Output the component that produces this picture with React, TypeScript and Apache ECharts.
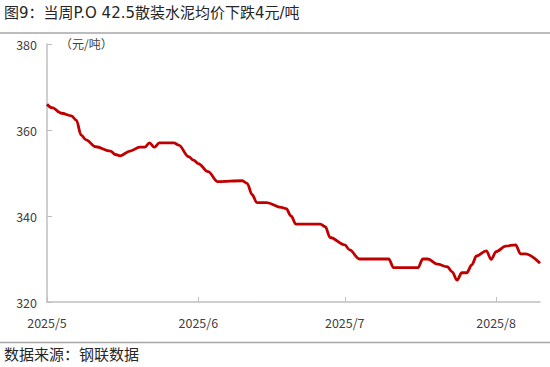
import React, { useEffect, useRef } from "react";
import * as echarts from "echarts";

const titleText = "图9：当周P.O 42.5散装水泥均价下跌4元/吨";
const unitText = "（元/吨）";
const sourceText = "数据来源：钢联数据";

const startDate = "2025-05-01";
const endDate = "2025-08-10";

const yTicks = { min: 320, max: 380, interval: 20 };

const priceDates = [
  "2025-05-01", "2025-05-02", "2025-05-04", "2025-05-06", "2025-05-07", "2025-05-08",
  "2025-05-09", "2025-05-11", "2025-05-14", "2025-05-15", "2025-05-16", "2025-05-18",
  "2025-05-20", "2025-05-21", "2025-05-22", "2025-05-23", "2025-05-24", "2025-05-27",
  "2025-05-28", "2025-05-30", "2025-05-31", "2025-06-01", "2025-06-03", "2025-06-05",
  "2025-06-10", "2025-06-11", "2025-06-12", "2025-06-13", "2025-06-15", "2025-06-18",
  "2025-06-19", "2025-06-20", "2025-06-21", "2025-06-26", "2025-06-27", "2025-06-28",
  "2025-07-01", "2025-07-02", "2025-07-04", "2025-07-10", "2025-07-11", "2025-07-16",
  "2025-07-17", "2025-07-18", "2025-07-20", "2025-07-22", "2025-07-23", "2025-07-24",
  "2025-07-25", "2025-07-26", "2025-07-27", "2025-07-28", "2025-07-30", "2025-07-31",
  "2025-08-01", "2025-08-03", "2025-08-05", "2025-08-06", "2025-08-07", "2025-08-10",
];

const priceValues = [
  366.0, 365.2, 363.9, 363.3, 362.3, 358.8,
  357.7, 356.1, 355.1, 354.3, 354.0, 355.1,
  356.0, 356.0, 357.0, 356.0, 357.0, 357.0,
  356.5, 353.8, 353.0, 352.2, 350.3, 348.0,
  348.2, 347.6, 345.0, 343.1, 343.1, 342.0,
  341.7, 340.0, 338.1, 338.1, 337.5, 335.0,
  333.3, 332.1, 330.0, 330.0, 328.0, 328.0,
  330.0, 330.0, 328.8, 328.2, 327.0, 325.1,
  326.8, 326.8, 328.6, 330.7, 331.9, 329.9,
  331.7, 333.0, 333.3, 331.2, 331.2, 329.0,
];

function buildCategories(from: string, to: string): string[] {
  const out: string[] = [];
  const d = new Date(from + "T00:00:00Z");
  const end = new Date(to + "T00:00:00Z");
  while (d.getTime() <= end.getTime()) {
    out.push(d.toISOString().slice(0, 10));
    d.setUTCDate(d.getUTCDate() + 1);
  }
  return out;
}

const FONT = "Noto Sans CJK SC";
const TITLE_FONT = "'DejaVu Sans', 'Noto Sans CJK SC'";

export default function App() {
  const ref = useRef<HTMLDivElement>(null);

  useEffect(() => {
    if (!ref.current) return;
    const chart = echarts.init(ref.current, undefined, { renderer: "svg" });
    const categories = buildCategories(startDate, endDate);
    const isMonthStart = (_i: number, v: string) => v.endsWith("-01");
    const data = priceDates.map((d, i) => [d, priceValues[i]]);

    chart.setOption({
      animation: false,
      backgroundColor: "#ffffff",
      textStyle: { fontFamily: FONT },
      grid: { left: 47, right: 10, top: 44, bottom: 65, containLabel: false },
      xAxis: {
        type: "category",
        data: categories,
        boundaryGap: false,
        axisLine: { lineStyle: { color: "#bfbfbf", width: 1.5 } },
        axisTick: { inside: true, length: 5, interval: isMonthStart, lineStyle: { color: "#bfbfbf" } },
        axisLabel: {
          interval: isMonthStart,
          margin: 14,
          color: "#404040",
          fontSize: 12.5,
          fontFamily: FONT,
          formatter: (v: string) => {
            const [y, m] = v.split("-");
            return `${y}/${parseInt(m, 10)}`;
          },
        },
        splitLine: { show: false },
      },
      yAxis: {
        type: "value",
        min: yTicks.min,
        max: yTicks.max,
        interval: yTicks.interval,
        axisLine: { show: true, lineStyle: { color: "#bfbfbf", width: 1.5 } },
        axisTick: { show: true, inside: true, length: 5, lineStyle: { color: "#bfbfbf" } },
        axisLabel: { color: "#404040", fontSize: 12.5, margin: 10, fontFamily: FONT },
        splitLine: { show: false },
      },
      series: [
        {
          type: "line",
          data,
          showSymbol: false,
          symbol: "none",
          smooth: 0.35,
          smoothMonotone: "x",
          lineStyle: { color: "#c00000", width: 2.8 },
        },
      ],
      graphic: [
        {
          type: "text",
          left: 4,
          top: 5,
          style: { text: titleText, fontSize: 15, fontFamily: TITLE_FONT, fill: "#262626", fontWeight: "normal" },
        },
        {
          type: "line",
          shape: { x1: 0, y1: 33, x2: 550, y2: 33 },
          style: { stroke: "#a6a6a6", lineWidth: 1.5 },
        },
        {
          type: "text",
          left: 60,
          top: 37,
          style: { text: unitText, fontSize: 12, fontFamily: FONT, fill: "#404040" },
        },
        {
          type: "line",
          shape: { x1: 0, y1: 342.5, x2: 550, y2: 342.5 },
          style: { stroke: "#a6a6a6", lineWidth: 1.5 },
        },
        {
          type: "text",
          left: 4,
          top: 346,
          style: { text: sourceText, fontSize: 15, fontFamily: FONT, fill: "#262626" },
        },
      ],
    });

    return () => chart.dispose();
  }, []);

  return <div ref={ref} style={{ width: 550, height: 367, position: "fixed", left: 0, top: 0 }} />;
}
